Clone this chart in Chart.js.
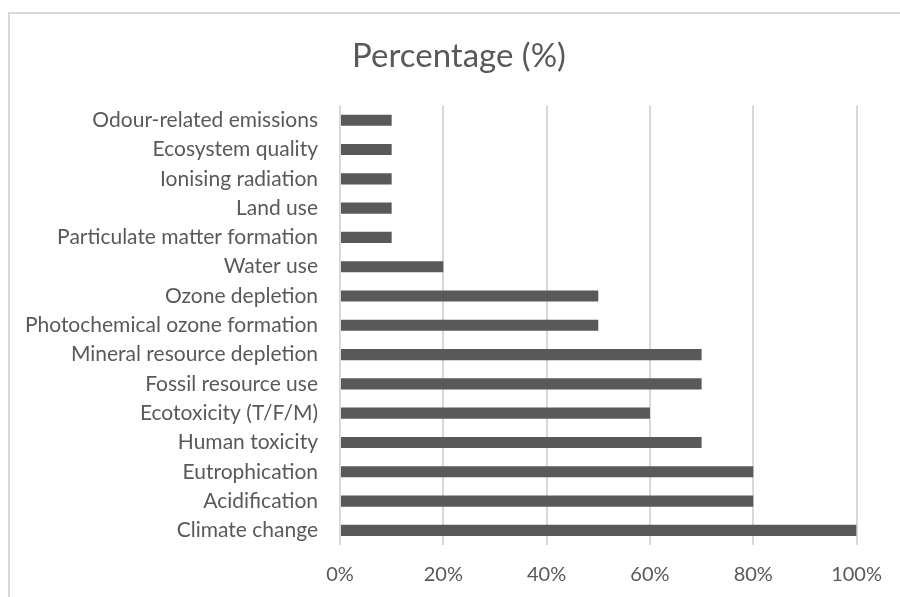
<!DOCTYPE html>
<html>
<head>
<meta charset="utf-8">
<script src="https://cdn.jsdelivr.net/npm/chart.js@4"></script>
<style>
  html, body { margin: 0; padding: 0; background: #fff; }
  #wrap { position: relative; width: 900px; height: 597px; overflow: hidden; }
  #frame { position: absolute; left: 8px; top: 12px; width: 900px; height: 600px;
           border: 2px solid #d9d9d9; pointer-events: none; }
  canvas { position: absolute; left: 0; top: 0; }
</style>
</head>
<body>
<div id="wrap">
  <canvas id="chart" width="900" height="597"></canvas>
  <div id="frame"></div>
</div>
<script>
const categories = [
  "Odour-related emissions",
  "Ecosystem quality",
  "Ionising radiation",
  "Land use",
  "Particulate matter formation",
  "Water use",
  "Ozone depletion",
  "Photochemical ozone formation",
  "Mineral resource depletion",
  "Fossil resource use",
  "Ecotoxicity (T/F/M)",
  "Human toxicity",
  "Eutrophication",
  "Acidification",
  "Climate change"
];
const percentages = [10, 10, 10, 10, 10, 20, 50, 50, 70, 70, 60, 70, 80, 80, 100];
const xTicks = [0, 20, 40, 60, 80, 100];

const textColor = "#595959";
const fontFamily = "Lato, 'Open Sans', sans-serif";

// shift the title block so it centres where the original does
const titleShift = {
  id: "titleShift",
  afterLayout(chart) {
    const t = chart.titleBlock;
    if (t) {
      t.left = 60;
      t.width = t.right - t.left;
    }
  }
};

new Chart(document.getElementById("chart"), {
  type: "bar",
  data: {
    labels: categories,
    datasets: [{
      label: "Percentage (%)",
      data: percentages,
      backgroundColor: "#595959",
      borderWidth: 0,
      categoryPercentage: 1,
      barPercentage: 0.38
    }]
  },
  options: {
    indexAxis: "y",
    responsive: false,
    animation: false,
    layout: { padding: { top: 12, right: 42, bottom: 0, left: 0 } },
    scales: {
      x: {
        min: 0,
        max: 100,
        afterBuildTicks: (axis) => {
          axis.ticks = xTicks.map((v) => ({ value: v }));
        },
        afterFit: (axis) => { axis.height = 52; },
        grid: { color: "#d9d9d9", lineWidth: 2, drawTicks: false },
        border: { display: false },
        ticks: {
          padding: 18,
          color: textColor,
          font: { family: fontFamily, size: 20 },
          callback: (v) => v + "%"
        }
      },
      y: {
        afterFit: (axis) => { axis.width = 340; },
        grid: { display: false, drawTicks: false },
        border: { display: false },
        ticks: {
          padding: 22,
          color: textColor,
          font: { family: fontFamily, size: 21 }
        }
      }
    },
    plugins: {
      legend: { display: false },
      tooltip: { enabled: false },
      title: {
        display: true,
        text: "Percentage (%)",
        color: textColor,
        font: { family: fontFamily, size: 33, weight: "normal" },
        padding: { top: 25, bottom: 29 }
      }
    }
  },
  plugins: [titleShift]
});
</script>
</body>
</html>
